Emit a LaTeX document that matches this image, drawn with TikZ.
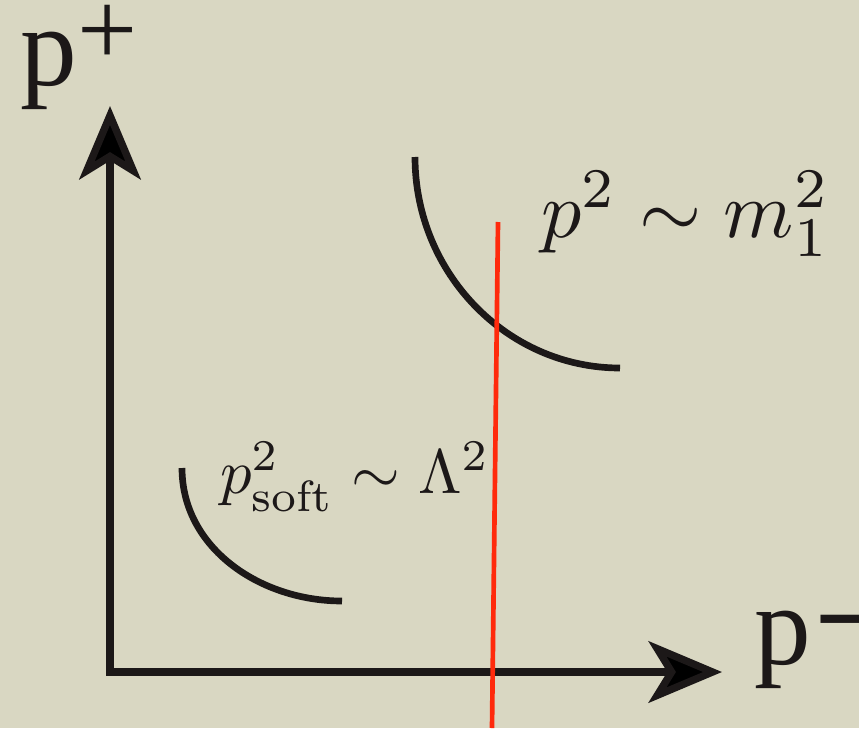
\documentclass[tikz,border=0pt]{standalone}
\usepackage{fontspec}
\usepackage{amsmath}
\newfontfamily\axisfont{Liberation Serif}
\newfontfamily\dashfont{Liberation Sans}
\usetikzlibrary{arrows.meta}
\definecolor{bg}{RGB}{217,215,194}
\definecolor{ink}{RGB}{28,24,24}
\definecolor{cutred}{RGB}{255,42,12}
\begin{document}
\begin{tikzpicture}[x=0.75pt,y=-0.75pt,
  axis/.style={draw=ink,line width=5.5pt,
    arrows={Stealth[length=55pt,width=46pt,inset=14pt,fill=black]-Stealth[length=55pt,width=46pt,inset=14pt,fill=black]}},
  shell/.style={draw=ink,line width=5pt},
  cut/.style={draw=cutred,line width=3.5pt},
  lbl/.style={inner sep=0pt,outer sep=0pt,anchor=base west,text=ink}]
\fill[bg] (0,0) rectangle (859,728);
\useasboundingbox (0,0) rectangle (859,728);
% axes
\coordinate (ytip) at (110,106);
\coordinate (O) at (110,672);
\coordinate (xtip) at (722,672);
\draw[axis] (ytip) -- (O) -- (xtip);
% axis labels
\node[lbl,font=\axisfont\fontsize{85pt}{90pt}\selectfont] (pplus) at (21,85) {p\raisebox{15pt}{\fontsize{80pt}{80pt}\selectfont +}};
\node[lbl,font=\axisfont\fontsize{85pt}{90pt}\selectfont] (pminus) at (754,664) {p\hspace{6pt}\raisebox{17pt}{\dashfont\bfseries\fontsize{62pt}{62pt}\selectfont –}};
% shells
\coordinate (U1) at (415,157);
\coordinate (U2) at (620,368);
\draw[shell] (U1) .. controls (415,273) and (507,368) .. (U2);
\coordinate (L1) at (182,468);
\coordinate (L2) at (342,601);
\draw[shell] (L1) .. controls (182,548) and (260,601) .. (L2);
% labels
\node[lbl,font=\fontsize{10pt}{12pt}\selectfont,scale=6] (hard) at (541,237) {$p^2\sim m_1^2$};
\node[lbl,font=\fontsize{10pt}{12pt}\selectfont,scale=4.7] (soft) at (220,493) {$p_{\text{soft}}^2\sim\Lambda^2$};
% cut
\coordinate (C1) at (498,222);
\coordinate (C2) at (492,728);
\draw[cut] (C1) -- (C2);
\end{tikzpicture}
\end{document}
